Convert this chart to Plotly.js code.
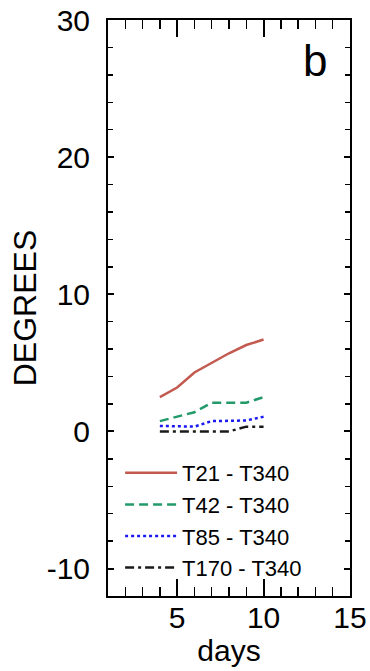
<!DOCTYPE html>
<html>
<head>
<meta charset="utf-8">
<script src="https://cdn.plot.ly/plotly-3.0.1.min.js"></script>
<style>
html,body{margin:0;padding:0;background:#fff;}
#chart{width:370px;height:671px;}
</style>
</head>
<body>
<div id="chart"></div>
<script>
const days = [4, 5, 6, 7, 8, 9, 10];
const t21 = [2.5, 3.2, 4.3, 5.0, 5.7, 6.3, 6.7];
const t42 = [0.75, 1.1, 1.4, 2.1, 2.1, 2.1, 2.5];
const t85 = [0.4, 0.35, 0.35, 0.75, 0.75, 0.8, 1.07];
const t170 = [0.0, 0.0, 0.0, 0.0, 0.0, 0.35, 0.35];
const names = ["T21 - T340", "T42 - T340", "T85 - T340", "T170 - T340"];
const xTicks = [5, 10, 15];
const yTicks = [-10, 0, 10, 20, 30];

const FONT = "Liberation Sans, Arial, Helvetica, sans-serif";

const traces = [
  {x: days, y: t21, name: names[0], mode: "lines",
   line: {color: "#c25a50", width: 2.5, dash: "solid"}},
  {x: days, y: t42, name: names[1], mode: "lines",
   line: {color: "#229a6a", width: 2.5, dash: "9px,5px"}},
  {x: days, y: t85, name: names[2], mode: "lines",
   line: {color: "#1a1af0", width: 2.5, dash: "3px,3px"}},
  {x: days, y: t170, name: names[3], mode: "lines",
   line: {color: "#1a1a1a", width: 2.5, dash: "9px,4px,3px,4px"}}
];

const layout = {
  width: 370, height: 671,
  margin: {l: 108, r: 20, t: 20, b: 75},
  paper_bgcolor: "#fff", plot_bgcolor: "#fff",
  font: {family: FONT, color: "#000"},
  showlegend: true,
  legend: {
    x: 0.05, y: 0.25, xanchor: "left", yanchor: "top",
    bgcolor: "rgba(0,0,0,0)", borderwidth: 0,
    font: {family: FONT, size: 22, color: "#000"},
    itemwidth: 52
  },
  xaxis: {
    range: [1, 15], tickvals: xTicks, ticktext: xTicks.map(String),
    ticks: "inside", ticklen: 17, tickwidth: 2, tickcolor: "#000",
    minor: {dtick: 1, tick0: 0, ticks: "inside", ticklen: 9, tickwidth: 1.5, tickcolor: "#000"},
    showline: true, linecolor: "#000", linewidth: 2, mirror: "ticks",
    showgrid: false, zeroline: false,
    tickfont: {family: FONT, size: 30, color: "#000"},
    ticklabelstandoff: -6,
    title: {text: "days", font: {family: FONT, size: 30, color: "#000"}, standoff: 0}
  },
  yaxis: {
    range: [-12, 30], tickvals: yTicks, ticktext: yTicks.map(String),
    ticks: "inside", ticklen: 6, tickwidth: 2, tickcolor: "#000",
    minor: {dtick: 2, tick0: 0, ticks: "inside", ticklen: 5, tickwidth: 1.5, tickcolor: "#000"},
    showline: true, linecolor: "#000", linewidth: 2, mirror: "ticks",
    showgrid: false, zeroline: false,
    tickfont: {family: FONT, size: 30, color: "#000"},
    ticklabelstandoff: 10,
    title: {text: "DEGREES", font: {family: FONT, size: 32, color: "#000"}, standoff: 0}
  },
  annotations: [
    {text: "b", xref: "paper", yref: "paper", x: 0.855, y: 0.975,
     xanchor: "center", yanchor: "top", showarrow: false,
     font: {family: FONT, size: 44, color: "#000"}}
  ]
};

Plotly.newPlot("chart", traces, layout, {displayModeBar: false, staticPlot: true});
</script>
</body>
</html>
